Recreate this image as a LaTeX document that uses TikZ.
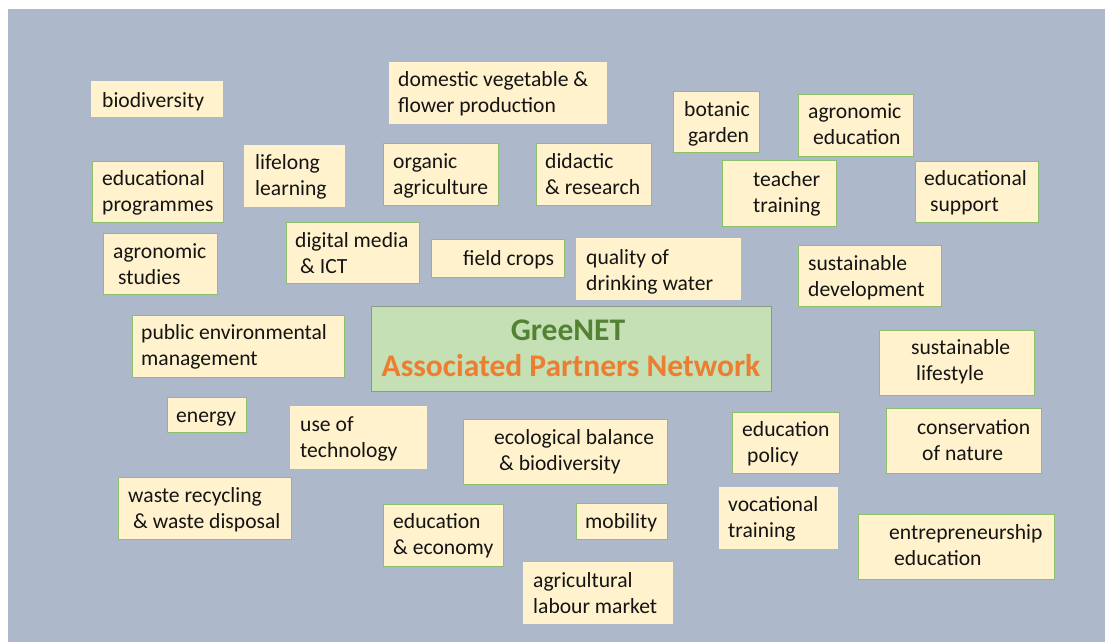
\documentclass[tikz,border=0pt]{standalone}
\usepackage{fontspec}
\setmainfont{Carlito}
\usetikzlibrary{calc}
\definecolor{bgc}{HTML}{ADB9CA}
\definecolor{boxfill}{HTML}{FFF2CC}
\definecolor{boxline}{HTML}{8DC06C}
\definecolor{cfill}{HTML}{C5E0B4}
\definecolor{cline}{HTML}{8A9A86}
\definecolor{gtext}{HTML}{548235}
\definecolor{otext}{HTML}{ED7D31}
\definecolor{ttext}{HTML}{141414}
\tikzset{
  plainbox/.style={fill=boxfill, draw=none, inner sep=0pt, anchor=north west},
  greenbox/.style={fill=boxfill, draw=boxline, line width=1.4pt, inner sep=0pt, anchor=north west},
  lbl/.style={inner sep=0pt, anchor=base west, align=left, text=ttext,
    font=\fontsize{21.6}{26.5}\selectfont},
  lbltwo/.style={lbl, yshift=-26.5pt},
  title/.style={inner sep=0pt, anchor=base, font=\fontsize{31.5}{36}\selectfont\bfseries},
}
\newcommand{\bx}[6]{% style, name, x1, y1, x2, y2
  \path let \n1={#5-#3}, \n2={#6-#4} in
    node[#1, minimum width=\n1 pt, minimum height=\n2 pt] (#2) at (#3,#4) {};}
\begin{document}
\begin{tikzpicture}[x=1pt,y=-1pt]
\useasboundingbox (0,0) rectangle (1105,642);
\fill[white] (0,0) rectangle (1105,642);
\fill[bgc] (8,9.5) rectangle (1105,642);

% boxes
\bx{plainbox}{biodiv}{91}{81}{223}{117}
\bx{plainbox}{domestic}{389}{62}{607}{124}
\bx{plainbox}{lifelong}{244}{145}{345}{207}
\bx{greenbox}{organic}{383}{143}{498}{205}
\bx{greenbox}{didactic}{536}{143}{651}{205}
\bx{greenbox}{eduprog}{92}{161}{223}{222}
\bx{greenbox}{agrostud}{103}{233}{217}{294}
\bx{greenbox}{digital}{286}{222}{419}{283}
\bx{greenbox}{publicenv}{132}{315}{344}{377}
\bx{greenbox}{field}{431}{239}{564}{277}
\bx{plainbox}{quality}{576}{238}{741}{300}
\bx{greenbox}{botanic}{673}{91}{759}{152}
\bx{greenbox}{agroedu}{798}{94}{913}{156}
\bx{greenbox}{teacher}{722}{160}{836}{226}
\bx{greenbox}{edusupp}{915}{161}{1038}{222}
\bx{greenbox}{sustdev}{798}{245}{941}{306}
\bx{greenbox}{sustlife}{879}{330}{1034}{395}
\bx{greenbox}{conserv}{886}{408}{1041}{473}
\bx{greenbox}{energy}{167}{397}{246}{432}
\bx{plainbox}{usetech}{290}{406}{427}{469}
\bx{greenbox}{waste}{118}{477}{291}{539}
\bx{greenbox}{ecobal}{463}{419}{667}{484}
\bx{greenbox}{edupol}{732}{412}{839}{473}
\bx{greenbox}{eduecon}{383}{504}{503}{566}
\bx{greenbox}{mobility}{576}{503}{667}{539}
\bx{plainbox}{vocational}{719}{487}{838}{549}
\bx{plainbox}{agrilab}{523}{562}{673}{624}
\bx{greenbox}{entrepr}{858}{514}{1054}{579}

% centre
\node[fill=cfill, draw=cline, line width=1.4pt, inner sep=0pt, anchor=north west,
  minimum width=400pt, minimum height=85pt] (centre) at (371,306) {};
\node[title, text=gtext] (cgreen) at (568,340) {GreeNET};
\node[title, text=otext] (corange) at (571,376) {Associated Partners Network};

% labels (lbltwo: position given is the first line's baseline)
\node[lbl] (tbiodiv) at (102,107) {biodiversity};
\node[lbltwo] (tdomestic) at (398,86) {domestic vegetable \&\\flower production};
\node[lbltwo] (tlifelong) at (255,169) {lifelong\\learning};
\node[lbltwo] (torganic) at (393,168) {organic\\agriculture};
\node[lbltwo] (tdidactic) at (545,168) {didactic\\\& research};
\node[lbltwo] (teduprog) at (102,185) {educational\\programmes};
\node[lbltwo] (tagrostud) at (113,258) {agronomic\\\hspace*{5pt}studies};
\node[lbltwo] (tdigital) at (295,247) {digital media\\\hspace*{5pt}\& ICT};
\node[lbltwo] (tpublicenv) at (141,339) {public environmental\\management};
\node[lbl] (tfield) at (463,265) {field crops};
\node[lbltwo] (tquality) at (586,264) {quality of\\drinking water};
\node[lbltwo] (tbotanic) at (684,116) {botanic\\\hspace*{4pt}garden};
\node[lbltwo] (tagroedu) at (808,118) {agronomic\\\hspace*{5pt}education};
\node[lbltwo] (tteacher) at (753,186) {teacher\\training};
\node[lbltwo] (tedusupp) at (924,185) {educational\\\hspace*{6pt}support};
\node[lbltwo] (tsustdev) at (808,270) {sustainable\\development};
\node[lbltwo] (tsustlife) at (911,354) {sustainable\\\hspace*{5pt}lifestyle};
\node[lbltwo] (tconserv) at (917,434) {conservation\\\hspace*{5pt}of nature};
\node[lbl] (tenergy) at (176,422) {energy};
\node[lbltwo] (tusetech) at (300,431) {use of\\technology};
\node[lbltwo] (twaste) at (128,502) {waste recycling\\\hspace*{5pt}\& waste disposal};
\node[lbltwo] (tecobal) at (494,444) {ecological balance\\\hspace*{5pt}\& biodiversity};
\node[lbltwo] (tedupol) at (742,436) {education\\\hspace*{5pt}policy};
\node[lbltwo] (teduecon) at (393,528) {education\\\& economy};
\node[lbl] (tmobility) at (585,528) {mobility};
\node[lbltwo] (tvocational) at (728,511) {vocational\\training};
\node[lbltwo] (tagrilab) at (533,587) {agricultural\\labour market};
\node[lbltwo] (tentrepr) at (889,539) {entrepreneurship\\\hspace*{5pt}education};
\end{tikzpicture}
\end{document}
